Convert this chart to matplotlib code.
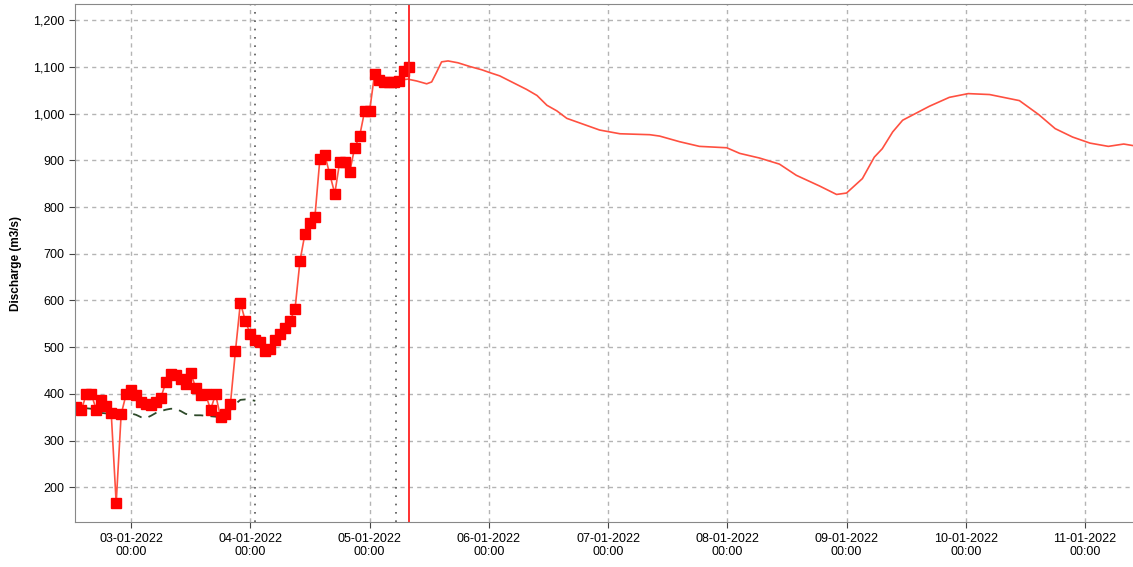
import matplotlib
matplotlib.use('Agg')
import matplotlib.pyplot as plt
import matplotlib.dates as mdates
from matplotlib.ticker import FuncFormatter, MultipleLocator
import pandas as pd

# observed discharge, hourly from 02-01-2022 13:00
obs_start = '2022-01-02 13:00'
obs_q = [372, 366, 399, 399, 366, 386, 373, 359, 166, 356, 399, 409, 397, 383,
         379, 377, 383, 392, 425, 443, 440, 432, 422, 445, 413, 397, 399, 366,
         399, 351, 356, 379, 491, 595, 556, 528, 515, 510, 492, 495, 515, 528,
         541, 556, 582, 685, 743, 765, 779, 903, 911, 870, 829, 897, 897, 875,
         927, 952, 1005, 1005, 1084, 1072, 1068, 1067, 1068, 1069, 1091, 1099]

# simulated (hindcast), hourly from 02-01-2022 12:00
sim_start = '2022-01-02 12:00'
sim_q = [383, 372, 370, 369, 368, 364, 359, 358, 358, 358, 358, 358, 358, 355,
         350, 348, 353, 359, 363, 366, 368, 368, 363, 357, 355, 354, 354, 353,
         352, 351, 351, 357, 366, 378, 387, 388, 387, 385]

# forecast: hours after 03-01-2022 00:00 and discharge
base = pd.Timestamp('2022-01-03 00:00')
fc_hours = [54, 55.7, 57.5, 59.5, 60.5, 61.5, 62.5, 63.8, 65.8, 68.2, 70.6, 72.2,
            74.2, 76.8, 79.6, 81.7, 83.7, 85.7, 87.7, 94.3, 98.4, 104.4, 106.4,
            110.4, 114.4, 119.9, 122.5, 126.5, 130.5, 133.9, 138.6, 142, 144,
            147.2, 149.6, 151.2, 153.3, 155.3, 160.7, 164.7, 168.5, 172.8, 178.8,
            182.7, 186, 189.5, 193, 196.7, 199.8, 202.6]
fc_q = [1072, 1074, 1070, 1064, 1068, 1089, 1111, 1113, 1109, 1101, 1094, 1088,
        1081, 1067, 1052, 1039, 1018, 1006, 990, 965, 957, 955, 952, 940, 930,
        927, 915, 905, 892, 868, 845, 827, 830, 861, 907, 925, 961, 986, 1016,
        1035, 1043, 1041, 1028, 998, 968, 950, 937, 930, 935, 930]

marker_times = ['2022-01-04 01:00', '2022-01-05 05:20']
now_time = '2022-01-05 08:00'

obs_t = pd.date_range(obs_start, periods=len(obs_q), freq='h')
sim_t = pd.date_range(sim_start, periods=len(sim_q), freq='h')
fc_t = [base + pd.Timedelta(hours=h) for h in fc_hours]

plt.rcParams['font.family'] = ['Liberation Sans', 'DejaVu Sans']

fig = plt.figure(figsize=(11.33, 5.67), dpi=100)
ax = fig.add_axes([0.066, 0.079, 0.934, 0.914])

ax.grid(True, color='#b4b4b4', linestyle=(0, (3, 3)), linewidth=1)
ax.set_axisbelow(True)

for t in marker_times:
    ax.axvline(pd.Timestamp(t), color='#555555', linestyle=(0, (1, 4)), linewidth=1.2)

ax.plot(sim_t, sim_q, color='#2e4a2a', linestyle=(0, (5, 4)), linewidth=1.3)
ax.plot(fc_t, fc_q, color='#ff5040', linewidth=1.2)
ax.plot(obs_t, obs_q, color='#ff5040', linewidth=1.2,
        marker='s', markersize=6.5, markerfacecolor='#ff0000',
        markeredgecolor='#ff0000')
ax.axvline(pd.Timestamp(now_time), color='#ff2020', linewidth=1.3)

ax.set_xlim(pd.Timestamp('2022-01-02 12:40'), pd.Timestamp('2022-01-11 09:40'))
ax.set_ylim(125, 1235)
ax.yaxis.set_major_locator(MultipleLocator(100))
ax.yaxis.set_major_formatter(FuncFormatter(lambda v, p: f'{int(v):,}'))
ax.xaxis.set_major_locator(mdates.DayLocator())
ax.xaxis.set_major_formatter(mdates.DateFormatter('%d-%m-%Y\n%H:%M'))

ax.tick_params(labelsize=9, length=4, color='#444444')
ax.set_ylabel('Discharge (m3/s)', fontsize=8.5, fontweight='bold', labelpad=8)
for side in ['left', 'bottom', 'top']:
    ax.spines[side].set_color('#888888')
ax.spines['right'].set_visible(False)

fig.savefig('out.png', dpi=100)
